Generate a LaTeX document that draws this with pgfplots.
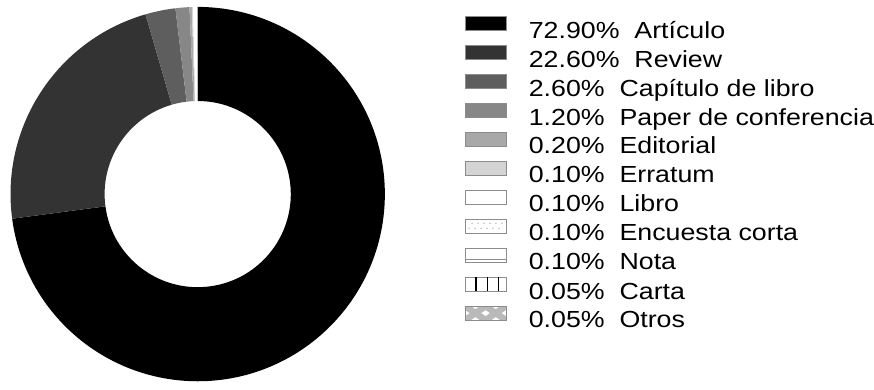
\documentclass[border=0pt]{standalone}
\usepackage{pgfplots}
\usepackage{pgfplotstable}
\pgfplotsset{compat=1.18}
\usepackage{fontspec}
\setmainfont{Liberation Sans}[FakeStretch=1.15]
\usetikzlibrary{patterns}

\definecolor{c1}{HTML}{333333}
\definecolor{c2}{HTML}{5E5E5E}
\definecolor{c3}{HTML}{878787}
\definecolor{c4}{HTML}{A8A8A8}
\definecolor{c5}{HTML}{D4D4D4}
\definecolor{bord}{HTML}{8C8C8C}

\pgfplotstableread{
idx pct
0 72.90
1 22.60
2 2.60
3 1.20
4 0.20
5 0.10
6 0.10
7 0.10
8 0.10
9 0.05
10 0.05
}\datatable
\pgfplotstablecreatecol[expr accum={\pgfmathaccuma + \thisrow{pct}}{0}]{cum}\datatable

\tikzset{
  s0/.style={fill=black},
  s1/.style={fill=c1},
  s2/.style={fill=c2},
  s3/.style={fill=c3},
  s4/.style={fill=c4},
  s5/.style={fill=c5},
  s6/.style={fill=white},
  s7/.style={fill=white},
  s8/.style={fill=white},
  s9/.style={fill=white},
  s10/.style={fill=gray!60},
}

\begin{document}
\begin{tikzpicture}
\begin{axis}[
  x=1bp, y=1bp,
  xmin=-199, xmax=675, ymin=-197, ymax=196,
  hide axis, clip=false,
  legend image code/.code={\draw[#1] (0bp,2bp) rectangle (41bp,16bp);},
  legend style={at={(axis cs:270,179.5)}, anchor=north west, draw=none, fill=none,
    inner sep=0pt, outer sep=0pt,
    font=\fontsize{23.5bp}{28bp}\selectfont,
    nodes={inner sep=0pt, text height=18bp, text depth=6bp},
    row sep=1.0bp,
    /tikz/every odd column/.append style={column sep=23bp}},
  legend cell align=left,
]
\path (rel axis cs:0,0) rectangle (rel axis cs:1,1);
\pgfplotsinvokeforeach{0,...,10}{
  \pgfplotstablegetelem{#1}{pct}\of\datatable \let\sPct\pgfplotsretval
  \pgfplotstablegetelem{#1}{cum}\of\datatable \let\sCum\pgfplotsretval
  \pgfmathsetmacro\angA{90-3.6*(\sCum-\sPct)}
  \pgfmathsetmacro\angB{90-3.6*\sCum}
  \edef\temp{\noexpand\fill[s#1] ([shift={(\angA:189bp)}]axis cs:0,0) arc[start angle=\angA, end angle=\angB, radius=189bp] -- ([shift={(\angB:94bp)}]axis cs:0,0) arc[start angle=\angB, end angle=\angA, radius=94bp] -- cycle;}
  \temp
}

\addlegendimage{fill=black, draw=bord}
\addlegendentry{72.90\%~~Artículo}
\addlegendimage{fill=c1, draw=bord}
\addlegendentry{22.60\%~~Review}
\addlegendimage{fill=c2, draw=bord}
\addlegendentry{2.60\%~~Capítulo de libro}
\addlegendimage{fill=c3, draw=bord}
\addlegendentry{1.20\%~~Paper de conferencia}
\addlegendimage{fill=c4, draw=bord}
\addlegendentry{0.20\%~~Editorial}
\addlegendimage{fill=c5, draw=bord}
\addlegendentry{0.10\%~~Erratum}
\addlegendimage{fill=white, draw=bord}
\addlegendentry{0.10\%~~Libro}
\addlegendimage{legend image code/.code={\draw[fill=white, draw=bord] (0bp,2bp) rectangle (41bp,16bp);
   \foreach \xx in {4,10,16,22,28,34} {\fill[gray!45] (\xx bp,6.5bp) circle (0.6bp); \fill[gray!45] (\xx bp+3bp,11.5bp) circle (0.6bp);}}}
\addlegendentry{0.10\%~~Encuesta corta}
\addlegendimage{legend image code/.code={\draw[fill=white, draw=bord] (0bp,2bp) rectangle (41bp,16bp);
   \draw[bord] (0bp,4.5bp) -- (41bp,4.5bp);}}
\addlegendentry{0.10\%~~Nota}
\addlegendimage{legend image code/.code={\draw[fill=white, draw=bord] (0bp,2bp) rectangle (41bp,16bp);
   \foreach \xx in {11,22.5,33.3} {\draw[black, line width=1.4bp] (\xx bp,2bp) -- (\xx bp,16bp);}}}
\addlegendentry{0.05\%~~Carta}
\addlegendimage{legend image code/.code={\begin{scope}\clip (0bp,2bp) rectangle (41bp,16bp);
   \fill[white] (0bp,2bp) rectangle (41bp,16bp);
   \draw[gray!55, line width=6.5bp] (0bp,2bp) -- (20.5bp,16bp) (0bp,16bp) -- (20.5bp,2bp) (20.5bp,2bp) -- (41bp,16bp) (20.5bp,16bp) -- (41bp,2bp);
   \end{scope}
   \draw[bord] (0bp,2bp) rectangle (41bp,16bp);}}
\addlegendentry{0.05\%~~Otros}
\end{axis}
\end{tikzpicture}
\end{document}
